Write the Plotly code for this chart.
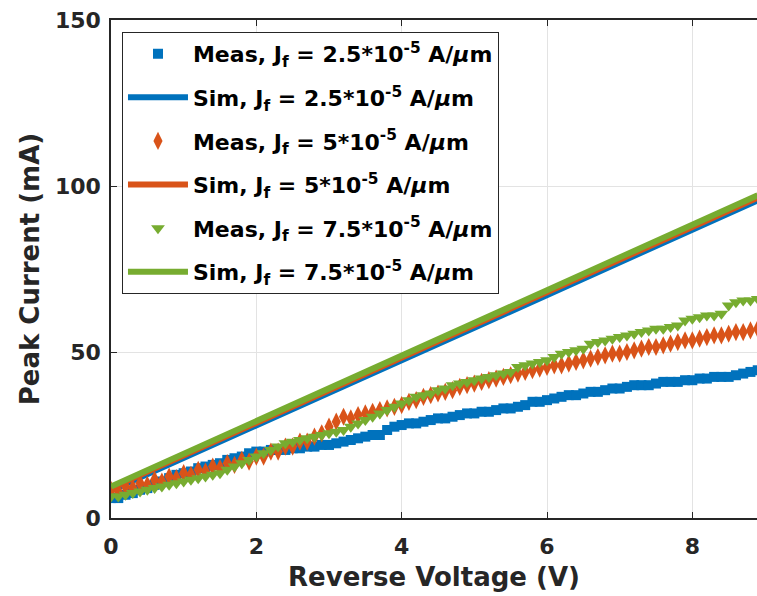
import plotly.graph_objects as go

# ---------------- data ----------------
volt_meas = [round(i * 0.1, 1) for i in range(90)]  # 0.0 ... 8.9 V

meas_25 = [6.0, 6.0, 7.0, 7.5, 8.5, 9.0, 10.0, 11.0, 12.0, 13.0,
           13.5, 14.0, 15.0, 15.5, 16.0, 16.5, 17.5, 18.0, 18.5, 19.5,
           20.0, 20.0, 20.5, 20.5, 20.5, 21.0, 21.0, 21.5, 21.5, 22.0,
           22.0, 22.5, 23.0, 23.5, 24.0, 24.5, 25.0, 25.0, 26.5, 27.5,
           28.0, 28.5, 28.5, 29.0, 29.5, 30.0, 30.0, 30.5, 31.0, 31.5,
           31.5, 32.0, 32.0, 32.5, 33.0, 33.0, 33.5, 34.0, 35.0, 35.0,
           35.5, 36.0, 36.5, 37.0, 37.0, 37.5, 38.0, 38.0, 38.5, 39.0,
           39.0, 39.5, 40.0, 40.0, 40.0, 40.5, 41.0, 41.0, 41.0, 41.5,
           41.5, 42.0, 42.0, 42.5, 42.5, 42.5, 43.0, 43.5, 44.0, 44.5]

meas_5 = [8.5, 8.0, 9.5, 9.0, 10.5, 10.0, 11.5, 11.0, 12.5, 12.0,
          13.5, 13.0, 14.5, 14.0, 15.5, 15.0, 16.5, 16.0, 17.5, 17.0,
          18.5, 18.5, 20.0, 20.0, 21.5, 21.5, 23.0, 23.0, 24.5, 25.5,
          27.5, 29.0, 30.5, 30.0, 31.0, 31.5, 32.0, 32.5, 33.0, 33.5,
          34.0, 35.0, 35.5, 36.5, 37.0, 37.5, 38.0, 38.5, 39.5, 40.0,
          40.5, 41.0, 41.5, 42.0, 42.5, 43.0, 43.5, 44.0, 44.5, 45.0,
          45.5, 46.0, 46.0, 46.5, 47.0, 47.5, 48.0, 48.5, 49.0, 49.5,
          49.5, 50.0, 50.5, 51.0, 51.5, 51.5, 52.0, 52.5, 53.0, 53.5,
          53.5, 54.0, 54.5, 55.0, 55.0, 55.5, 56.0, 56.0, 56.5, 57.0]

meas_75 = [6.5, 6.5, 7.0, 7.5, 8.0, 8.5, 9.0, 9.5, 10.0, 10.5,
           11.0, 11.5, 12.0, 12.5, 13.0, 13.5, 14.5, 15.5, 16.5, 17.5,
           18.5, 19.5, 20.5, 21.5, 22.5, 23.0, 23.5, 24.0, 24.5, 25.0,
           25.5, 26.0, 26.5, 27.5, 28.5, 29.5, 30.5, 31.5, 32.5, 33.5,
           34.5, 35.5, 36.5, 37.0, 37.5, 38.5, 39.0, 40.0, 40.5, 41.0,
           41.5, 42.0, 42.5, 43.0, 43.5, 44.0, 45.5, 46.0, 46.5, 47.0,
           47.5, 48.5, 49.5, 50.0, 50.5, 51.0, 52.5, 53.0, 53.5, 54.0,
           54.5, 55.0, 55.5, 56.0, 56.5, 57.0, 57.0, 57.5, 58.0, 59.5,
           60.0, 60.5, 61.0, 61.0, 61.5, 64.0, 65.0, 65.5, 65.5, 66.0]

volt_sim = [0, 1, 2, 3, 4, 5, 6, 7, 8, 8.9]
sim_25 = [8.3, 18.0, 27.8, 37.6, 47.5, 57.3, 67.2, 77.0, 86.8, 95.7]
sim_5 = [9.0, 18.8, 28.5, 38.4, 48.3, 58.1, 68.0, 77.8, 87.6, 96.5]
sim_75 = [9.5, 19.3, 29.0, 39.0, 49.0, 58.8, 68.6, 78.5, 88.3, 97.2]

names = [
    "Meas, J<sub>f</sub> = 2.5*10<sup>-5</sup> A/<i>μ</i>m",
    "Sim, J<sub>f</sub> = 2.5*10<sup>-5</sup> A/<i>μ</i>m",
    "Meas, J<sub>f</sub> = 5*10<sup>-5</sup> A/<i>μ</i>m",
    "Sim, J<sub>f</sub> = 5*10<sup>-5</sup> A/<i>μ</i>m",
    "Meas, J<sub>f</sub> = 7.5*10<sup>-5</sup> A/<i>μ</i>m",
    "Sim, J<sub>f</sub> = 7.5*10<sup>-5</sup> A/<i>μ</i>m",
]

BLUE = "#0072BD"
ORANGE = "#D95319"
GREEN = "#77AC30"
DARK = "#262626"
FONT = "DejaVu Sans"

fig = go.Figure()

fig.add_trace(go.Scatter(x=volt_meas, y=meas_25, mode="markers", name=names[0],
                         legendgroup="a",
                         marker=dict(symbol="square", size=10, color=BLUE)))
fig.add_trace(go.Scatter(x=volt_sim, y=sim_25, mode="lines", name=names[1],
                         legendgroup="b",
                         line=dict(color=BLUE, width=6)))
fig.add_trace(go.Scatter(x=volt_meas, y=meas_5, mode="markers", name=names[2],
                         legendgroup="c",
                         marker=dict(symbol="diamond-tall", size=13, color=ORANGE)))
fig.add_trace(go.Scatter(x=volt_sim, y=sim_5, mode="lines", name=names[3],
                         legendgroup="d",
                         line=dict(color=ORANGE, width=6)))
fig.add_trace(go.Scatter(x=volt_meas, y=meas_75, mode="markers", name=names[4],
                         legendgroup="e",
                         marker=dict(symbol="triangle-down", size=12, color=GREEN)))
fig.add_trace(go.Scatter(x=volt_sim, y=sim_75, mode="lines", name=names[5],
                         legendgroup="f",
                         line=dict(color=GREEN, width=6)))

fig.update_layout(
    width=757, height=596,
    margin=dict(l=111, r=0, t=20, b=78),
    paper_bgcolor="white", plot_bgcolor="white",
    font=dict(family=FONT, size=21, color=DARK, weight="bold"),
    showlegend=True,
    legend=dict(
        x=0.017, y=0.976, xanchor="left", yanchor="top",
        bgcolor="white", bordercolor=DARK, borderwidth=1,
        font=dict(family=FONT, size=22, color="black", weight="bold"),
        traceorder="grouped", tracegroupgap=12, itemwidth=60,
    ),
    xaxis=dict(
        range=[0, 8.89], tickvals=[0, 2, 4, 6, 8],
        showgrid=True, gridcolor="#e3e3e3", gridwidth=1,
        zeroline=False, showline=True, linecolor=DARK, linewidth=1.5,
        mirror="ticks", ticks="inside", ticklen=6, tickcolor=DARK,
        ticklabelstandoff=8,
        tickfont=dict(family=FONT, size=22, color=DARK, weight="bold"),
        title=dict(text="Reverse Voltage (V)", standoff=10,
                   font=dict(family=FONT, size=26, color=DARK, weight="bold")),
    ),
    yaxis=dict(
        range=[0, 150], tickvals=[0, 50, 100, 150],
        showgrid=True, gridcolor="#e3e3e3", gridwidth=1,
        zeroline=False, showline=True, linecolor=DARK, linewidth=1.5,
        mirror=False, ticks="inside", ticklen=6, tickcolor=DARK,
        ticklabelstandoff=4,
        tickfont=dict(family=FONT, size=22, color=DARK, weight="bold"),
        title=dict(text="Peak Current (mA)", standoff=8,
                   font=dict(family=FONT, size=26, color=DARK, weight="bold")),
    ),
)

fig.write_html("out.html")
